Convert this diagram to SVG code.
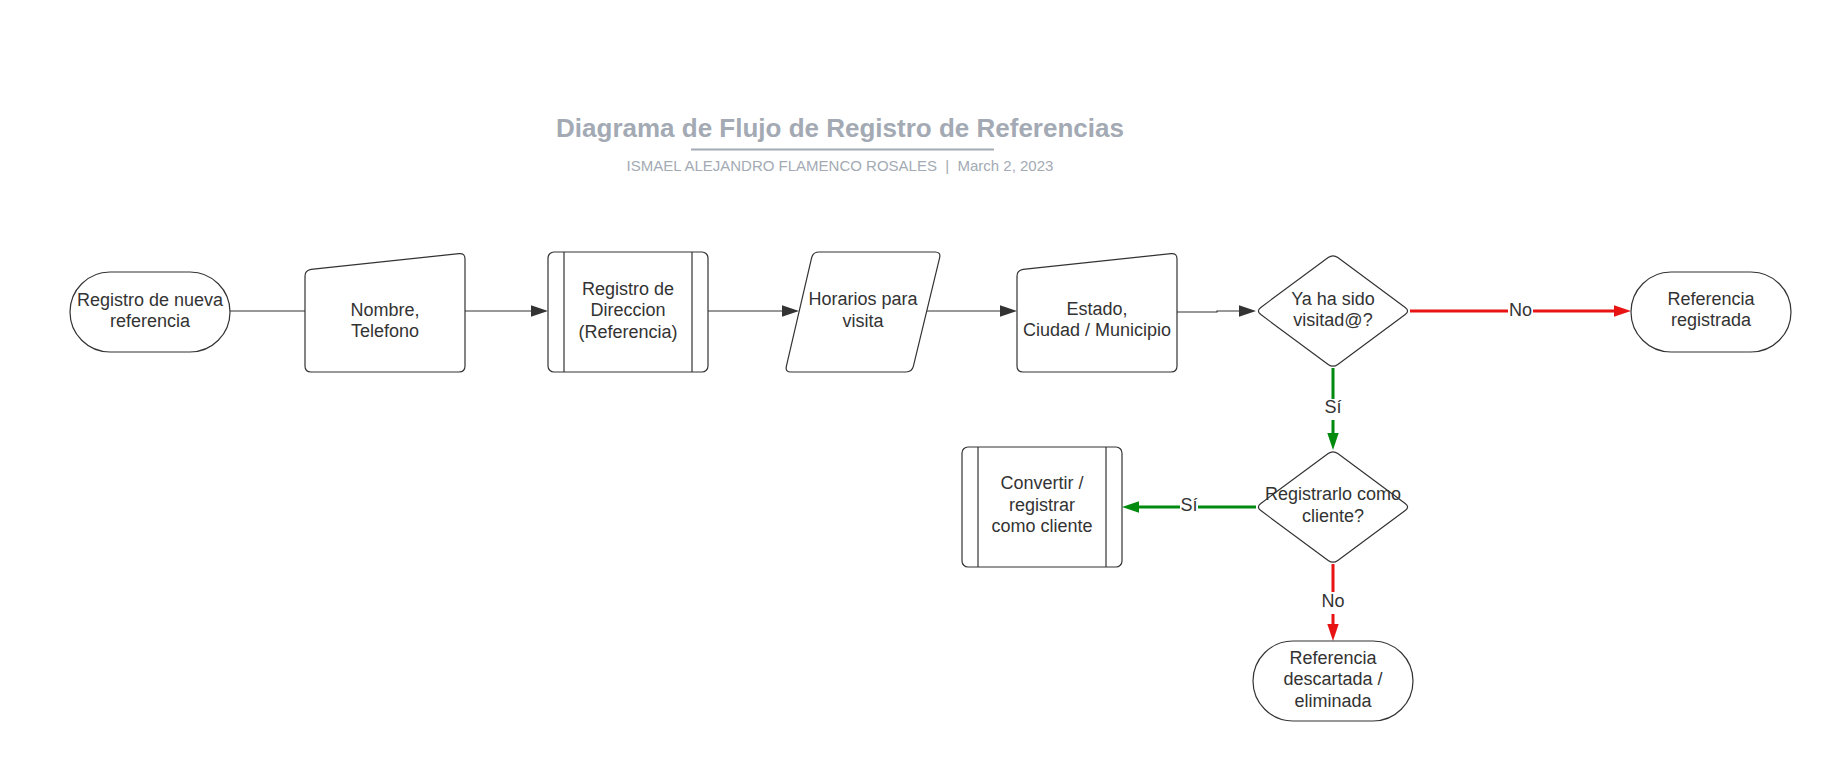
<svg xmlns="http://www.w3.org/2000/svg" width="1832" height="762" viewBox="0 0 1832 762">
<style>
.node{fill:#fff;stroke:#333;stroke-width:1.2}
.inner{stroke:#333;stroke-width:1.2;fill:none}
.t{font-family:"Liberation Sans",Arial,sans-serif;font-size:18px;fill:#333;text-anchor:middle}
.c{fill:none;stroke:#333;stroke-width:1.2}
.red{fill:none;stroke:#e81313;stroke-width:3}
.green{fill:none;stroke:#008a0e;stroke-width:3}
.lbg{fill:#fff}
.title{font-family:"Liberation Sans",Arial,sans-serif;font-size:26px;font-weight:bold;fill:#a3aab4;text-anchor:middle}
.sub{font-family:"Liberation Sans",Arial,sans-serif;font-size:15px;fill:#a3aab4;text-anchor:middle;white-space:pre}
</style>
<defs>
<marker id="ak" markerUnits="userSpaceOnUse" markerWidth="18" markerHeight="12" refX="9" refY="6" orient="auto"><path d="M0,0.3 L17,6 L0,11.7 z" fill="#333"/></marker>
<marker id="ar" markerUnits="userSpaceOnUse" markerWidth="18" markerHeight="12" refX="9" refY="6" orient="auto"><path d="M0,0.3 L17,6 L0,11.7 z" fill="#e81313"/></marker>
<marker id="ag" markerUnits="userSpaceOnUse" markerWidth="18" markerHeight="12" refX="9" refY="6" orient="auto"><path d="M0,0.3 L17,6 L0,11.7 z" fill="#008a0e"/></marker>
<path id="manual" d="M305,276 Q305,270.5 311,269.4 L459,253.6 Q465,253 465,259 L465,366 Q465,372 459,372 L311,372 Q305,372 305,366 Z"/>
</defs>
<rect width="1832" height="762" fill="#fff"/>

<g id="title">
<text class="title" x="840" y="136.5">Diagrama de Flujo de Registro de Referencias</text>
<line x1="691" y1="149.5" x2="994" y2="149.5" stroke="#a3aab4" stroke-width="2"/>
<text class="sub" x="840" y="171">ISMAEL ALEJANDRO FLAMENCO ROSALES  |  March 2, 2023</text>
</g>

<g id="connectors">
<path class="c" d="M230,311 H305"/>
<path class="c" d="M465,311 H540" marker-end="url(#ak)"/>
<path class="c" d="M708,311 H791" marker-end="url(#ak)"/>
<path class="c" d="M927,311 H1009" marker-end="url(#ak)"/>
<path class="c" d="M1177,312 H1217 V311 H1248" marker-end="url(#ak)"/>
<path class="red" d="M1410,311 H1623" marker-end="url(#ar)"/>
<path class="green" d="M1333,368 V442" marker-end="url(#ag)"/>
<path class="green" d="M1256,507 H1130" marker-end="url(#ag)"/>
<path class="red" d="M1333,564 V633" marker-end="url(#ar)"/>
<g id="labels">
<rect class="lbg" x="1508" y="302" width="25" height="18"/>
<text class="t" x="1520.5" y="316">No</text>
<rect class="lbg" x="1324" y="399" width="18" height="21"/>
<text class="t" x="1333" y="413">Sí</text>
<rect class="lbg" x="1180" y="498" width="18" height="18"/>
<text class="t" x="1189" y="511">Sí</text>
<rect class="lbg" x="1321" y="592" width="24" height="22"/>
<text class="t" x="1333" y="607">No</text>
</g>
</g>

<g id="n1">
<rect class="node" x="70" y="272" width="160" height="80" rx="40" ry="40"/>
<text class="t" x="150" y="306">Registro de nueva</text>
<text class="t" x="150" y="327">referencia</text>
</g>

<g id="n2">
<use href="#manual" class="node"/>
<text class="t" x="385" y="316">Nombre,</text>
<text class="t" x="385" y="337">Telefono</text>
</g>

<g id="n3">
<rect class="node" x="548" y="252" width="160" height="120" rx="6" ry="6"/>
<line class="inner" x1="564" y1="252" x2="564" y2="372"/>
<line class="inner" x1="692" y1="252" x2="692" y2="372"/>
<text class="t" x="628" y="294.5">Registro de</text>
<text class="t" x="628" y="316">Direccion</text>
<text class="t" x="628" y="337.5">(Referencia)</text>
</g>

<g id="n4">
<path class="node" d="M786.4,366.2 L811.6,257.8 Q813,252 819,252 L935,252 Q941,252 939.6,257.8 L913.4,366.2 Q912,372 906,372 L791,372 Q785,372 786.4,366.2 Z"/>
<text class="t" x="863" y="305">Horarios para</text>
<text class="t" x="863" y="326.5">visita</text>
</g>

<g id="n5">
<use href="#manual" class="node" transform="translate(712,0)"/>
<text class="t" x="1097" y="315">Estado,</text>
<text class="t" x="1097" y="336">Ciudad / Municipio</text>
</g>

<g id="n6">
<path class="node" d="M1260.8,307.4 L1328.2,257.6 Q1333,254 1337.8,257.6 L1405.2,307.4 Q1410,311 1405.2,314.6 L1337.8,364.4 Q1333,368 1328.2,364.4 L1260.8,314.6 Q1256,311 1260.8,307.4 Z"/>
<text class="t" x="1333" y="305">Ya ha sido</text>
<text class="t" x="1333" y="326">visitad@?</text>
</g>

<g id="n7">
<rect class="node" x="1631" y="272" width="160" height="80" rx="40" ry="40"/>
<text class="t" x="1711" y="305">Referencia</text>
<text class="t" x="1711" y="326">registrada</text>
</g>

<g id="n8">
<path class="node" d="M1260.8,503.4 L1328.2,453.6 Q1333,450 1337.8,453.6 L1405.2,503.4 Q1410,507 1405.2,510.6 L1337.8,560.4 Q1333,564 1328.2,560.4 L1260.8,510.6 Q1256,507 1260.8,503.4 Z"/>
<text class="t" x="1333" y="500">Registrarlo como</text>
<text class="t" x="1333" y="521.5">cliente?</text>
</g>

<g id="n9">
<rect class="node" x="962" y="447" width="160" height="120" rx="6" ry="6"/>
<line class="inner" x1="978" y1="447" x2="978" y2="567"/>
<line class="inner" x1="1106" y1="447" x2="1106" y2="567"/>
<text class="t" x="1042" y="489">Convertir /</text>
<text class="t" x="1042" y="510.5">registrar</text>
<text class="t" x="1042" y="532">como cliente</text>
</g>

<g id="n10">
<rect class="node" x="1253" y="641" width="160" height="80" rx="40" ry="40"/>
<text class="t" x="1333" y="664">Referencia</text>
<text class="t" x="1333" y="685">descartada /</text>
<text class="t" x="1333" y="706.5">eliminada</text>
</g>
</svg>
